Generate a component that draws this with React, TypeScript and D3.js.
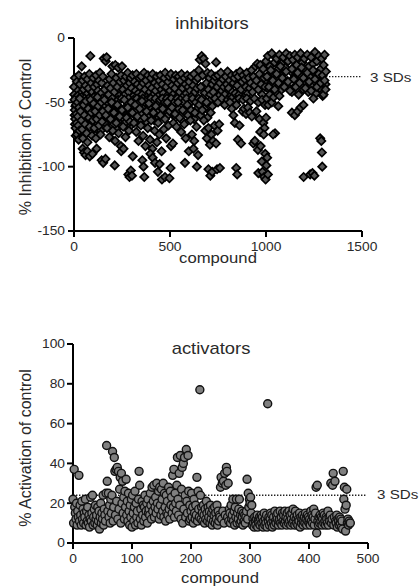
import React from 'react';
import * as d3 from 'd3';

// inhibitors: one reading every 5 compounds (0, 5, 10 ... 1310) for the dense band
const inhibitorBand = [
  -38, -31, -45, -34, -41, -29, -36, -43, -22, -33,
  -40, -30, -37, -44, -32, -39, -28, -14, -35, -42,
  -31, -38, -45, -29, -36, -41, -33, -27, -43, -35,
  -30, -16, -40, -18, -15, -37, -44, -32, -39, -28,
  -22, -35, -42, -21, -31, -38, -23, -45, -34, -29,
  -22, -40, -33, -44, -30, -37, -27, -42, -35, -31,
  -39, -29, -45, -34, -41, -28, -36, -43, -31, -38,
  -30, -44, -35, -27, -40, -33, -46, -29, -37, -42,
  -31, -39, -28, -44, -35, -41, -30, -37, -45, -33,
  -29, -40, -36, -43, -31, -27, -38, -45, -34, -30,
  -41, -28, -37, -44, -32, -39, -29, -46, -35, -30,
  -42, -33, -28, -39, -45, -31, -36, -43, -29, -38,
  -34, -41, -30, -45, -37, -28, -42, -33, -39, -31,
  -25, -17, -38, -14, -29, -16, -43, -20, -35, -27,
  -40, -31, -44, -28, -36, -42, -33, -30, -19, -38,
  -29, -45, -35, -27, -41, -32, -38, -44, -30, -36,
  -26, -39, -33, -45, -29, -42, -35, -31, -43, -28,
  -37, -30, -44, -26, -40, -34, -29, -46, -32, -38,
  -27, -43, -31, -39, -35, -25, -42, -30, -37, -22,
  -33, -20, -40, -28, -21, -36, -44, -24, -31, -38,
  -18, -30, -14, -40, -22, -35, -12, -27, -43, -19,
  -32, -16, -38, -24, -13, -41, -20, -29, -15, -36,
  -23, -12, -34, -18, -39, -14, -26, -42, -17, -31,
  -13, -37, -21, -15, -44, -28, -12, -33, -19, -40,
  -16, -25, -35, -13, -42, -22, -30, -15, -38, -20,
  -27, -11, -43, -18, -33, -14, -39, -24, -16, -45,
  -21, -13, -36,
];
const bandStep = 5;

// inhibitors: individual compounds [compound, % inhibition] off the main band
const inhibitorSpread: [number, number][] = [
  [2, -48], [4, -56], [6, -63], [8, -70], [10, -52], [12, -59], [14, -66], [16, -75], [18, -50], [20, -61],
  [22, -68], [24, -79], [26, -54], [28, -72], [30, -47], [34, -57], [38, -64], [42, -71], [46, -78], [50, -52],
  [54, -60], [58, -67], [62, -49], [66, -74], [70, -81], [74, -55], [78, -62], [82, -69], [86, -48], [90, -58],
  [94, -76], [98, -64], [102, -51], [106, -70], [110, -57], [114, -78], [118, -63], [122, -46], [126, -53], [130, -68],
  [134, -60], [138, -75], [142, -50], [146, -65], [150, -57],
  [45, -86], [52, -89], [60, -91], [70, -88], [82, -92], [96, -90], [118, -86], [144, -95], [152, -97], [164, -94],
  [158, -48], [166, -60], [172, -70], [178, -55], [184, -77], [190, -63], [196, -50], [202, -72], [208, -58], [214, -80],
  [220, -66], [226, -52], [232, -74], [238, -61], [244, -84], [250, -56], [256, -69], [262, -48], [268, -77], [274, -62],
  [280, -54], [286, -72], [292, -65], [298, -50],
  [212, -99], [246, -88], [258, -86], [283, -106], [289, -108], [296, -103], [306, -92], [302, -107],
  [304, -58], [312, -66], [318, -52], [324, -73], [330, -61], [336, -80], [342, -55], [348, -68], [354, -49], [360, -76],
  [366, -62], [372, -84], [378, -57], [384, -70], [390, -51], [396, -79], [402, -64], [408, -86], [414, -58], [420, -72],
  [426, -53], [432, -81], [438, -66], [444, -75], [450, -60], [456, -88], [462, -55], [468, -71], [474, -63], [480, -78],
  [486, -50], [492, -68], [498, -57],
  [356, -95], [362, -100], [366, -108], [398, -90], [410, -93], [422, -97], [437, -104], [446, -98], [458, -110], [474, -108],
  [497, -109], [503, -101], [505, -84],
  [510, -54], [518, -66], [526, -59], [534, -69], [542, -50], [550, -62], [558, -73], [566, -56], [574, -67], [582, -78],
  [590, -52], [598, -88], [606, -64], [614, -75], [622, -86], [630, -58], [638, -69], [646, -91], [515, -82], [578, -97],
  [640, -100], [626, -80],
  [652, -52], [660, -60], [668, -56], [676, -64], [684, -72], [692, -78], [700, -70], [708, -83], [716, -75], [724, -80],
  [732, -68], [740, -82], [748, -72], [756, -67], [700, -102], [710, -107], [720, -104], [745, -102], [760, -101], [664, -48],
  [690, -50], [712, -58],
  [812, -50], [822, -55], [830, -60], [838, -66], [846, -52], [854, -79], [862, -68], [870, -82], [878, -57], [886, -55],
  [896, -59], [906, -54], [916, -58], [926, -61], [934, -82], [942, -80], [950, -57], [958, -87], [966, -63], [972, -84],
  [978, -96], [986, -66], [992, -70], [996, -90], [845, -101], [850, -106], [960, -105], [982, -104], [990, -108], [998, -110],
  [1002, -99], [1006, -93], [1010, -106], [970, -73], [988, -75], [1000, -62],
  [1004, -47], [1012, -52], [1020, -44], [1030, -50], [1040, -46], [1050, -42], [1064, -53], [1047, -74], [1037, -75], [1070, -45],
  [1135, -58], [1150, -60], [1165, -57], [1180, -54], [1195, -52], [1247, -47], [1282, -78], [1288, -80], [1291, -89], [1293, -100],
  [1196, -108], [1230, -106], [1242, -105], [1252, -107], [1300, -44], [1310, -40],
  [1005, -30], [1015, -38], [1025, -25], [1035, -33], [1045, -40], [1055, -28], [1065, -35], [1075, -22], [1085, -31], [1095, -38],
  [1105, -26], [1115, -34], [1125, -41], [1135, -24], [1145, -32], [1155, -38], [1165, -27], [1175, -35], [1185, -23], [1195, -31],
  [1205, -39], [1215, -27], [1225, -34], [1235, -41], [1245, -25], [1255, -32], [1265, -38], [1275, -28], [1285, -35], [1295, -29],
  [1305, -33], [1312, -26],
];

// inhibitors: the crowded zone just under the band
const inhibitorUnderBand: [number, number][] = [
  [1, -44], [3, -60], [5, -67], [7, -53], [9, -76], [11, -46], [13, -63], [15, -57], [17, -70], [19, -45],
  [21, -58], [23, -65], [25, -47], [27, -61], [29, -77], [32, -47], [36, -50], [40, -46], [44, -55], [48, -62],
  [56, -47], [64, -58], [68, -52], [72, -65], [76, -47], [80, -73], [84, -57], [88, -64], [92, -50], [100, -60],
  [104, -46], [108, -63], [112, -49], [116, -54], [120, -71], [124, -59], [128, -47], [132, -62], [136, -52], [140, -72],
  [148, -47], [155, -53], [162, -66], [168, -49], [175, -62], [182, -51], [188, -70], [194, -56], [200, -47], [206, -64],
  [212, -51], [218, -57], [224, -71], [230, -48], [236, -55], [242, -67], [248, -47], [254, -62], [260, -55], [266, -66],
  [272, -49], [278, -60], [284, -47], [290, -57], [296, -68], [310, -48], [316, -60], [322, -56], [328, -47], [334, -66],
  [340, -50], [346, -59], [352, -64], [358, -47], [364, -55], [370, -50], [376, -65], [382, -48], [388, -60], [394, -54],
  [400, -47], [406, -58], [412, -50], [418, -64], [424, -47], [430, -57], [436, -51], [442, -62], [448, -48], [454, -54],
  [460, -47], [466, -61], [472, -50], [478, -56], [484, -47], [490, -60], [496, -50], [506, -47], [514, -58], [522, -50],
  [530, -62], [538, -47], [546, -55], [554, -48], [562, -64], [570, -50], [578, -58], [586, -47], [594, -60], [602, -51],
  [610, -56], [618, -47], [626, -63], [634, -50], [642, -55], [650, -47], [670, -47], [680, -55], [695, -62], [705, -49],
  [720, -53], [735, -47], [750, -50], [770, -47], [785, -52], [800, -48], [820, -47], [840, -49], [860, -47], [880, -48],
  [900, -47], [920, -49], [940, -47], [960, -50], [980, -48], [995, -52],
];

// activators: % activation for compounds 0..470
const activators = [
  22, 10, 37, 18, 15, 12, 20, 9, 16, 13,
  34, 11, 19, 14, 9, 21, 12, 17, 10, 15,
  13, 22, 9, 16, 11, 18, 10, 14, 8, 12,
  23, 11, 15, 24, 9, 13, 17, 10, 19, 12,
  14, 9, 18, 11, 16, 7, 13, 20, 10, 15,
  12, 24, 9, 17, 14, 11, 25, 49, 31, 16,
  25, 13, 19, 10, 22, 15, 24, 46, 11, 18,
  43, 36, 14, 37, 21, 38, 12, 36, 17, 27,
  33, 10, 35, 20, 31, 15, 23, 12, 26, 18,
  32, 14, 21, 11, 25, 16, 9, 19, 13, 22,
  8, 24, 15, 11, 18, 26, 9, 20, 13, 16,
  10, 22, 36, 29, 12, 17, 9, 21, 14, 19,
  11, 18, 24, 13, 16, 20, 10, 22, 15, 17,
  14, 25, 19, 12, 28, 16, 21, 29, 13, 18,
  23, 15, 30, 20, 17, 26, 12, 28, 19, 14,
  27, 22, 16, 30, 13, 25, 18, 11, 24, 15,
  21, 14, 28, 17, 12, 26, 19, 23, 15, 34,
  18, 37, 13, 25, 20, 16, 29, 43, 22, 14,
  35, 19, 44, 12, 27, 38, 10, 40, 17, 43,
  24, 13, 47, 21, 15, 44, 26, 11, 19, 12,
  16, 25, 13, 18, 10, 22, 15, 12, 19, 14,
  33, 11, 26, 17, 13, 77, 24, 12, 18, 15,
  11, 19, 14, 10, 17, 12, 21, 15, 11, 18,
  13, 16, 10, 19, 12, 15, 9, 17, 11, 14,
  18, 10, 15, 12, 19, 9, 16, 11, 14, 13,
  28, 33, 12, 30, 16, 31, 10, 35, 14, 29,
  38, 36, 13, 30, 11, 17, 15, 10, 19, 12,
  14, 22, 11, 16, 9, 18, 13, 22, 10, 15,
  12, 17, 22, 10, 14, 11, 16, 13, 9, 15,
  11, 14, 10, 13, 16, 32, 12, 25, 18, 22,
  20, 23, 15, 19, 9, 12, 10, 8, 13, 11,
  9, 12, 14, 8, 11, 10, 13, 9, 12, 14,
  10, 13, 8, 11, 15, 9, 12, 10, 14, 8,
  70, 11, 13, 9, 12, 15, 10, 14, 8, 11,
  13, 9, 16, 11, 10, 14, 12, 15, 9, 11,
  12, 16, 10, 13, 9, 15, 11, 14, 10, 16,
  11, 13, 9, 15, 12, 10, 16, 11, 14, 9,
  12, 15, 10, 17, 11, 13, 9, 16, 12, 10,
  14, 9, 12, 11, 15, 8, 13, 10, 12, 14,
  9, 11, 13, 10, 15, 12, 9, 14, 11, 13,
  10, 12, 9, 16, 11, 14, 10, 13, 17, 9,
  12, 15, 28, 5, 29, 11, 9, 13, 10, 14,
  11, 13, 9, 12, 15, 10, 14, 11, 9, 13,
  12, 10, 16, 9, 13, 11, 14, 30, 10, 12,
  29, 35, 9, 13, 31, 11, 10, 14, 8, 12,
  11, 9, 13, 10, 12, 8, 11, 7, 36, 22,
  28, 17, 6, 19, 27, 10, 12, 9, 11, 10,
  10,
];

const inhXTicks = [0, 500, 1000, 1500];
const inhYTicks = [0, -50, -100, -150];
const actXTicks = [0, 100, 200, 300, 400, 500];
const actYTicks = [0, 20, 40, 60, 80, 100];
const inhSD = -30;
const actSD = 24;

const FONT = '"Liberation Sans", Arial, sans-serif';
const INK = '#2a2a2a';
const SX = 1.15; // the figure's text is a bit wide

function Txt({ x, y, size, anchor = 'start', children }: any) {
  return (
    <text transform={`translate(${x},${y}) scale(${SX},1)`} fontSize={size} textAnchor={anchor} fontFamily={FONT} fill={INK}>
      {children}
    </text>
  );
}

function Axes({ x, y, xt, yt }: any) {
  const [x0, x1] = x.range();
  const [y0, y1] = y.range();
  return (
    <g stroke="#000" strokeWidth={2} fill="none">
      <line x1={x0} x2={x0} y1={y0 + 1} y2={y1} />
      <line x1={x0 - 1} x2={x1} y1={y0} y2={y0} />
      {yt.map((t: number) => <line key={'y' + t} x1={x0 - 6} x2={x0} y1={y(t)} y2={y(t)} />)}
      {xt.map((t: number) => <line key={'x' + t} x1={x(t)} x2={x(t)} y1={y0} y2={y0 + 6} />)}
    </g>
  );
}

export default function App() {
  const xI = d3.scaleLinear().domain([0, 1500]).range([74, 362]);
  const yI = d3.scaleLinear().domain([-150, 0]).range([231, 38]);
  const xA = d3.scaleLinear().domain([0, 500]).range([73, 368]);
  const yA = d3.scaleLinear().domain([0, 100]).range([543, 344]);

  const diamond = d3.symbol().type(d3.symbolSquare).size(34)()!;

  const inhPoints: [number, number][] = [
    ...inhibitorBand.map((v, i) => [i * bandStep, v] as [number, number]),
    ...inhibitorUnderBand,
    ...inhibitorSpread,
  ];

  return (
    <svg width={420} height={586} style={{ position: 'absolute', left: 0, top: 0, background: '#fff' }}>
      {/* inhibitors */}
      <Txt x={212} y={29} size={16} anchor="middle">inhibitors</Txt>
      <text transform="translate(30.5,137) rotate(-90)" fontSize={16} textAnchor="middle" fontFamily={FONT} fill={INK}>
        % Inhibition of Control
      </text>
      <line x1={xI(0)} x2={362} y1={yI(inhSD)} y2={yI(inhSD)} stroke="#222" strokeWidth={1.4} strokeDasharray="1.4,1.6" />
      <Axes x={xI} y={yI} xt={inhXTicks} yt={inhYTicks} />
      <g fill="#555" stroke="#000" strokeWidth={1.7}>
        {inhPoints.map(([c, v], i) => (
          <path key={i} d={diamond} transform={`translate(${xI(c)},${yI(v)}) rotate(45)`} />
        ))}
      </g>
      {inhYTicks.map(t => <Txt key={t} x={65} y={yI(t) + 4.3} size={12} anchor="end">{t}</Txt>)}
      {inhXTicks.map(t => <Txt key={t} x={xI(t)} y={251} size={12} anchor="middle">{t}</Txt>)}
      <Txt x={218} y={263} size={14.5} anchor="middle">compound</Txt>
      <Txt x={370} y={81.5} size={13.2}>3 SDs</Txt>

      {/* activators */}
      <Txt x={211} y={354} size={16} anchor="middle">activators</Txt>
      <text transform="translate(31,448) rotate(-90)" fontSize={16} textAnchor="middle" fontFamily={FONT} fill={INK}>
        % Activation of control
      </text>
      <line x1={xA(0)} x2={367} y1={yA(actSD)} y2={yA(actSD)} stroke="#222" strokeWidth={1.4} strokeDasharray="1.4,1.6" />
      <Axes x={xA} y={yA} xt={actXTicks} yt={actYTicks} />
      <g fill="#808080" stroke="#111" strokeWidth={1.4}>
        {activators.map((v, i) => (
          <circle key={i} cx={xA(i)} cy={yA(v)} r={4} />
        ))}
      </g>
      {actYTicks.map(t => <Txt key={t} x={65} y={yA(t) + 4.3} size={12} anchor="end">{t}</Txt>)}
      {actXTicks.map(t => <Txt key={t} x={xA(t)} y={563} size={12} anchor="middle">{t}</Txt>)}
      <Txt x={220} y={583} size={14.5} anchor="middle">compound</Txt>
      <Txt x={377} y={499} size={13.2}>3 SDs</Txt>
    </svg>
  );
}
